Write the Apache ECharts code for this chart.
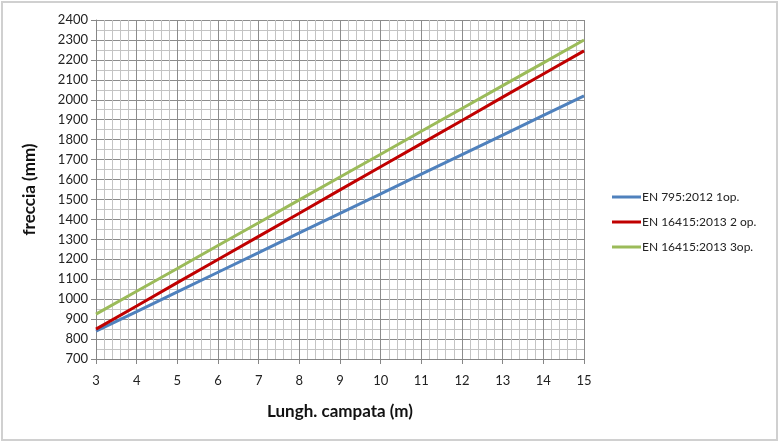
<!DOCTYPE html>
<html><head><meta charset="utf-8">
<script src="https://cdn.jsdelivr.net/npm/echarts@6/dist/echarts.min.js"></script>
<style>html,body{margin:0;padding:0;background:#fff}#c{width:780px;height:443px}</style>
</head><body><div id="c"></div>
<script>
const spans = [3, 4, 5, 6, 7, 8, 9, 10, 11, 12, 13, 14, 15];
const en795_1op = [840, 938, 1037, 1135, 1233, 1332, 1430, 1528, 1627, 1725, 1823, 1922, 2020];
const en16415_2op = [850, 966, 1083, 1199, 1315, 1431, 1548, 1664, 1780, 1896, 2013, 2129, 2245];
const en16415_3op = [925, 1040, 1154, 1269, 1383, 1498, 1613, 1727, 1842, 1956, 2071, 2185, 2300];
const seriesNames = ['EN 795:2012 1op.', 'EN 16415:2013 2 op.', 'EN 16415:2013 3op.'];
const colors = ['#4F81BD', '#C00000', '#9BBB59'];
const values = [en795_1op, en16415_2op, en16415_3op];

const chart = echarts.init(document.getElementById('c'));
const font = 'Lato, "Open Sans", sans-serif';
chart.setOption({
  animation: false,
  textStyle: {fontFamily: font},
  graphic: [{type: 'rect', shape: {x: 2, y: 2, width: 775, height: 438}, style: {fill: 'none', stroke: '#d0d0d0', lineWidth: 2}}],
  grid: {left: 96, right: 196, top: 20, bottom: 84, containLabel: false},
  legend: {
    orient: 'vertical', left: 607, top: 186, itemGap: 13,
    icon: 'rect', itemWidth: 29, itemHeight: 3,
    textStyle: {fontSize: 12, color: '#222', fontFamily: font, padding: [0, 0, 0, -4]},
    data: seriesNames
  },
  xAxis: {
    type: 'value', min: 3, max: 15, interval: 1,
    name: 'Lungh. campata (m)', nameLocation: 'middle', nameGap: 44,
    nameTextStyle: {fontSize: 17, fontWeight: 'bold', color: '#111', fontFamily: font},
    axisLine: {show: true, lineStyle: {color: '#868686', width: 1}},
    axisTick: {show: true, length: 5, lineStyle: {color: '#868686'}},
    axisLabel: {fontSize: 13, color: '#222', margin: 15},
    splitLine: {show: true, lineStyle: {color: '#8c8c8c', width: 1}},
    minorTick: {show: false, splitNumber: 5},
    minorSplitLine: {show: true, lineStyle: {color: '#c4c4c4', width: 1}}
  },
  yAxis: {
    type: 'value', min: 700, max: 2400, interval: 100,
    name: 'freccia (mm)', nameLocation: 'middle', nameGap: 58, nameRotate: 90,
    nameTextStyle: {fontSize: 17, fontWeight: 'bold', color: '#111', fontFamily: font},
    axisLine: {show: true, lineStyle: {color: '#868686', width: 1}},
    axisTick: {show: true, length: 5, lineStyle: {color: '#868686'}},
    axisLabel: {fontSize: 13, color: '#222', margin: 8, formatter: v => String(v)},
    splitLine: {show: true, lineStyle: {color: '#8c8c8c', width: 1}},
    minorTick: {show: false, splitNumber: 2},
    minorSplitLine: {show: true, lineStyle: {color: '#c4c4c4', width: 1}}
  },
  series: seriesNames.map((n, i) => ({
    name: n, type: 'line', showSymbol: false, symbol: 'none',
    data: spans.map((x, j) => [x, values[i][j]]),
    lineStyle: {color: colors[i], width: 3},
    itemStyle: {color: colors[i]}
  }))
});
</script></body></html>
